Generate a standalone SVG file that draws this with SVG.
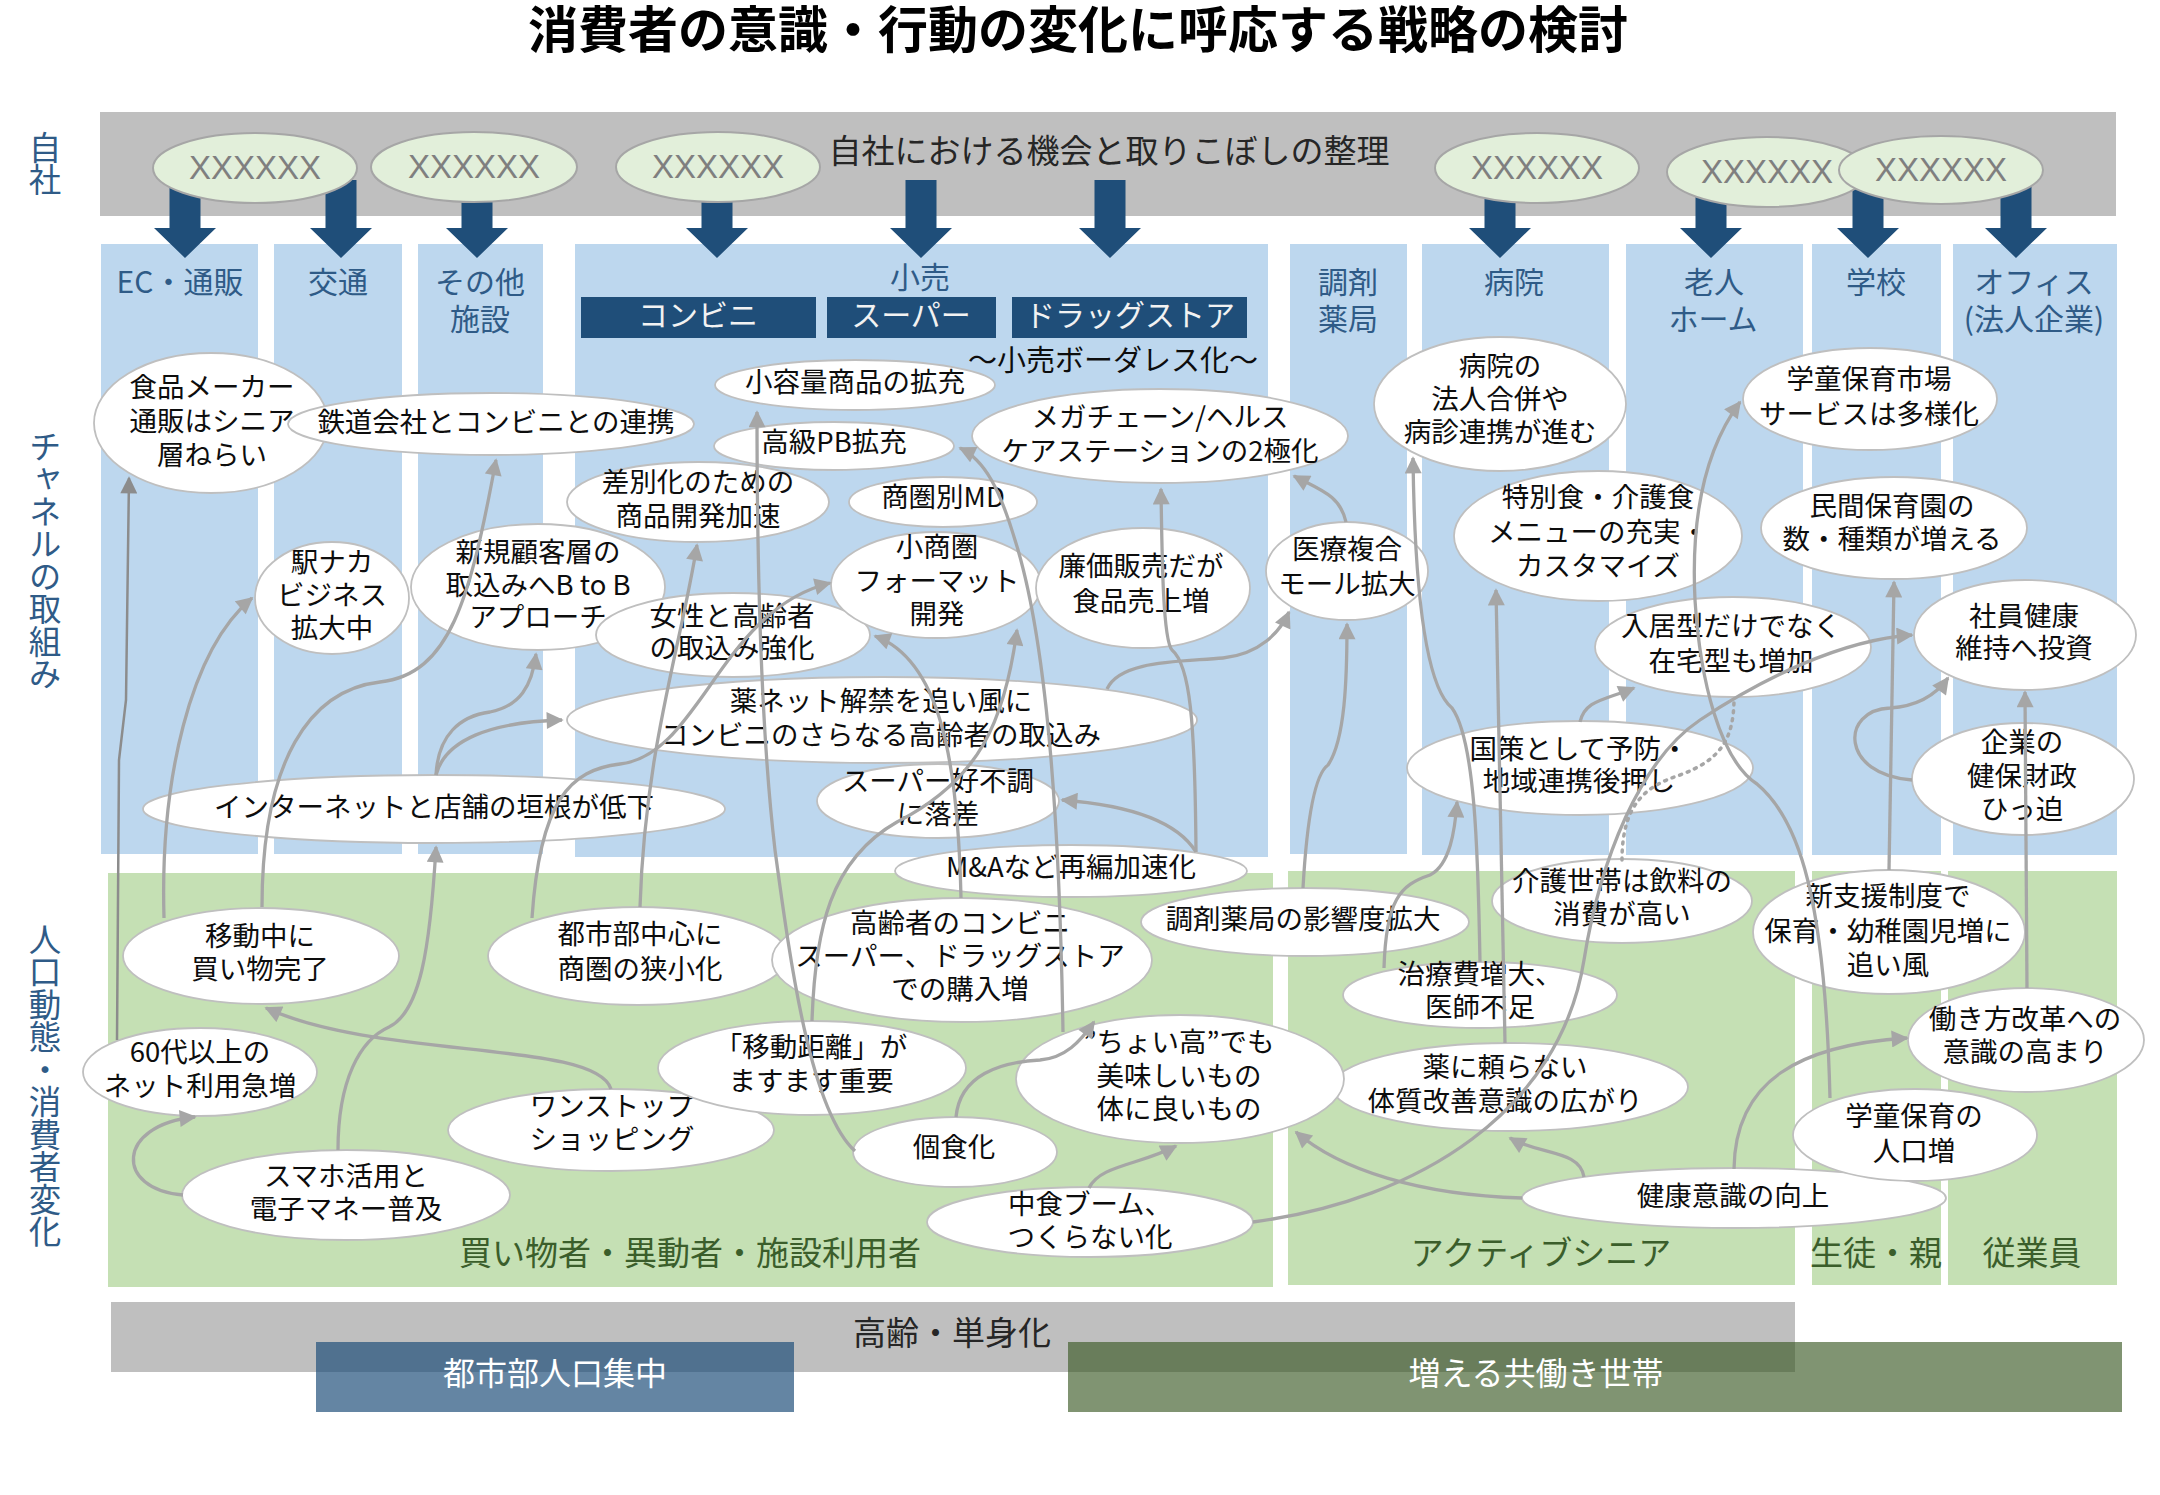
<svg xmlns="http://www.w3.org/2000/svg" width="2160" height="1495" viewBox="0 0 2160 1495">
<style>
text{font-family:'Noto Sans CJK JP','Noto Sans',sans-serif;transform:translateY(-3.5px)}
.title{font-size:50px;font-weight:bold;fill:#000;text-anchor:middle;dominant-baseline:central;transform:translateY(-5px)}
.side{font-size:32.5px;fill:#2f5b87;writing-mode:vertical-rl;transform:none}
.col{font-size:30px;fill:#2f5b87;text-anchor:middle;dominant-baseline:central}
.box{fill:#1f4e79}
.boxt{font-size:30px;fill:#f2f2f2;text-anchor:middle;dominant-baseline:central}
.blk{font-size:33px;fill:#262626;text-anchor:middle;dominant-baseline:central}
.grn{font-size:33px;fill:#3b5e2b;text-anchor:middle;dominant-baseline:central}
.wht{font-size:32px;fill:#fff;text-anchor:middle;dominant-baseline:central}
.xe ellipse{fill:#e2efda;stroke:#a6a6a6;stroke-width:2}
.xe text{font-family:'Liberation Sans',sans-serif;font-size:33px;fill:#7f7f7f;text-anchor:middle;dominant-baseline:central;transform:translateY(-1px)}
.n ellipse{fill:#fff;stroke:#bfbfbf;stroke-width:1.8}
.n text{font-size:27.5px;fill:#0d0d0d;text-anchor:middle;dominant-baseline:central}
.c path{fill:none;stroke:#a6a6a6;stroke-width:3.3;marker-end:url(#ah)}
.c path.dot{stroke-dasharray:2 6;stroke-linecap:round;marker-end:none;stroke-width:3.5}
.c path.dk{stroke:#8c8c8c;stroke-width:2.5;marker-end:url(#ah2)}
</style>
<defs>
<marker id="ah" viewBox="0 0 10 10" refX="9" refY="5" markerWidth="19" markerHeight="17" markerUnits="userSpaceOnUse" orient="auto"><path d="M0,0 L10,5 L0,10 z" fill="#a6a6a6"/></marker>
<marker id="ah2" viewBox="0 0 10 10" refX="9" refY="5" markerWidth="19" markerHeight="17" markerUnits="userSpaceOnUse" orient="auto"><path d="M0,0 L10,5 L0,10 z" fill="#8c8c8c"/></marker>
<path id="barrow" d="M-15.5,180 H15.5 V228 H31 L0,258 L-31,228 H-15.5 Z" fill="#1f4e79"/>
</defs>
<rect width="2160" height="1495" fill="#fff"/>
<text class="title" x="1078" y="31">消費者の意識・行動の変化に呼応する戦略の検討</text>

<g id="side-labels">
<text class="side" x="45" y="131">自社</text>
<text class="side" x="45" y="430">チャネルの取組み</text>
<text class="side" x="45" y="923">人口動態・消費者変化</text>
</g>

<g id="background">
<rect x="100" y="112" width="2016" height="104" fill="#bfbfbf"/>
<g fill="#bdd7ee">
<rect x="101" y="244" width="157" height="610"/>
<rect x="274" y="244" width="128" height="610"/>
<rect x="418" y="244" width="125" height="610"/>
<rect x="575" y="244" width="693" height="613"/>
<rect x="1290" y="244" width="117" height="610"/>
<rect x="1422" y="244" width="187" height="611"/>
<rect x="1626" y="244" width="177" height="611"/>
<rect x="1812" y="244" width="129" height="611"/>
<rect x="1953" y="244" width="164" height="611"/>
</g>
<g fill="#c5e0b4">
<rect x="108" y="873" width="1165" height="414"/>
<rect x="1288" y="871" width="507" height="414"/>
<rect x="1812" y="871" width="129" height="414"/>
<rect x="1948" y="871" width="169" height="414"/>
</g>
<rect x="111" y="1302" width="1684" height="70" fill="#bfbfbf"/>
<rect x="316" y="1342" width="478" height="70" fill="#1f4e79" fill-opacity="0.69"/>
<rect x="1068" y="1342" width="1054" height="70" fill="#385723" fill-opacity="0.64"/>
</g>

<g id="labels">
<text class="blk" x="1109" y="152">自社における機会と取りこぼしの整理</text>
<text class="col" x="180" y="283">EC・通販</text>
<text class="col" x="338" y="283">交通</text>
<text class="col" x="480" y="283">その他</text>
<text class="col" x="480" y="320">施設</text>
<text class="col" x="920" y="278">小売</text>
<text class="col" x="1348" y="283">調剤</text>
<text class="col" x="1348" y="320">薬局</text>
<text class="col" x="1514" y="283">病院</text>
<text class="col" x="1714" y="283">老人</text>
<text class="col" x="1713" y="320">ホーム</text>
<text class="col" x="1876" y="283">学校</text>
<text class="col" x="2034" y="283">オフィス</text>
<text class="col" x="2034" y="320">(法人企業)</text>
<rect class="box" x="581" y="297" width="235" height="41"/>
<rect class="box" x="827" y="297" width="169" height="41"/>
<rect class="box" x="1012" y="297" width="235" height="41"/>
<text class="boxt" x="698" y="316">コンビニ</text>
<text class="boxt" x="911" y="316">スーパー</text>
<text class="boxt" x="1130" y="316">ドラッグストア</text>
<text class="blk" x="1113" y="361" style="font-size:29px;fill:#0d0d0d">～小売ボーダレス化～</text>
<text class="grn" x="690" y="1254">買い物者・異動者・施設利用者</text>
<text class="grn" x="1541" y="1254">アクティブシニア</text>
<text class="grn" x="1876" y="1254">生徒・親</text>
<text class="grn" x="2032" y="1254">従業員</text>
<text class="blk" x="952" y="1334">高齢・単身化</text>
<text class="wht" x="555" y="1374">都市部人口集中</text>
<text class="wht" x="1536" y="1374">増える共働き世帯</text>
</g>

<g id="block-arrows">
<use href="#barrow" x="185"/><use href="#barrow" x="341"/><use href="#barrow" x="477"/>
<use href="#barrow" x="717"/><use href="#barrow" x="921"/><use href="#barrow" x="1110"/>
<use href="#barrow" x="1500"/><use href="#barrow" x="1711"/><use href="#barrow" x="1868"/>
<use href="#barrow" x="2016"/>
</g>

<g id="x1" class="xe"><ellipse cx="255" cy="168" rx="102" ry="35"/><text x="255" y="168">XXXXXX</text></g>
<g id="x2" class="xe"><ellipse cx="474" cy="167" rx="103" ry="35"/><text x="474" y="167">XXXXXX</text></g>
<g id="x3" class="xe"><ellipse cx="718" cy="167" rx="102" ry="35"/><text x="718" y="167">XXXXXX</text></g>
<g id="x4" class="xe"><ellipse cx="1537" cy="168" rx="102" ry="35"/><text x="1537" y="168">XXXXXX</text></g>
<g id="x5" class="xe"><ellipse cx="1767" cy="172" rx="100" ry="35"/><text x="1767" y="172">XXXXXX</text></g>
<g id="x6" class="xe"><ellipse cx="1941" cy="170" rx="102" ry="34"/><text x="1941" y="170">XXXXXX</text></g>

<g id="n1" class="n"><ellipse cx="211" cy="423" rx="117" ry="70"/><text><tspan x="212" y="388">食品メーカー</tspan><tspan x="212" y="422">通販はシニア</tspan><tspan x="212" y="456">層ねらい</tspan></text></g>
<g id="n2" class="n"><ellipse cx="491" cy="424" rx="203" ry="31"/><text x="496" y="423">鉄道会社とコンビニとの連携</text></g>
<g id="n3" class="n"><ellipse cx="332" cy="598" rx="77" ry="56"/><text><tspan x="332" y="563">駅ナカ</tspan><tspan x="332" y="596">ビジネス</tspan><tspan x="332" y="629">拡大中</tspan></text></g>
<g id="n4" class="n"><ellipse cx="538" cy="587" rx="127" ry="63"/><text><tspan x="538" y="553">新規顧客層の</tspan><tspan x="538" y="586">取込みへB to B</tspan><tspan x="538" y="618">アプローチ</tspan></text></g>
<g id="n5" class="n"><ellipse cx="434" cy="809" rx="291" ry="34"/><text x="434" y="808">インターネットと店舗の垣根が低下</text></g>
<g id="n6" class="n"><ellipse cx="855" cy="385" rx="140" ry="25"/><text x="855" y="383">小容量商品の拡充</text></g>
<g id="n7" class="n"><ellipse cx="834" cy="446" rx="120" ry="24"/><text x="834" y="443">高級PB拡充</text></g>
<g id="n8" class="n"><ellipse cx="1160" cy="436" rx="188" ry="47"/><text><tspan x="1160" y="418">メガチェーン/ヘルス</tspan><tspan x="1160" y="452">ケアステーションの2極化</tspan></text></g>
<g id="n9" class="n"><ellipse cx="698" cy="502" rx="131" ry="40"/><text><tspan x="698" y="483">差別化のための</tspan><tspan x="698" y="517">商品開発加速</tspan></text></g>
<g id="n10" class="n"><ellipse cx="943" cy="502" rx="94" ry="25"/><text x="943" y="498">商圏別MD</text></g>
<g id="n13" class="n"><ellipse cx="733" cy="635" rx="137" ry="42"/><text><tspan x="732" y="617">女性と高齢者</tspan><tspan x="732" y="649">の取込み強化</tspan></text></g>
<g id="n11" class="n"><ellipse cx="936" cy="585" rx="105" ry="53"/><text><tspan x="937" y="548">小商圏</tspan><tspan x="937" y="582">フォーマット</tspan><tspan x="937" y="615">開発</tspan></text></g>
<g id="n12" class="n"><ellipse cx="1143" cy="588" rx="107" ry="60"/><text><tspan x="1141" y="567">廉価販売だが</tspan><tspan x="1141" y="602">食品売上増</tspan></text></g>
<g id="n14" class="n"><ellipse cx="882" cy="720" rx="315" ry="43"/><text><tspan x="881" y="702">薬ネット解禁を追い風に</tspan><tspan x="881" y="736">コンビニのさらなる高齢者の取込み</tspan></text></g>
<g id="n15" class="n"><ellipse cx="938" cy="801" rx="121" ry="37"/><text><tspan x="938" y="782">スーパー好不調</tspan><tspan x="938" y="815">に落差</tspan></text></g>
<g id="n16" class="n"><ellipse cx="1071" cy="871" rx="176" ry="26"/><text x="1071" y="868">M&amp;Aなど再編加速化</text></g>
<g id="n17" class="n"><ellipse cx="1347" cy="571" rx="81" ry="49"/><text><tspan x="1347" y="550">医療複合</tspan><tspan x="1347" y="585">モール拡大</tspan></text></g>
<g id="n18" class="n"><ellipse cx="1500" cy="404" rx="126" ry="67"/><text><tspan x="1500" y="367">病院の</tspan><tspan x="1500" y="400">法人合併や</tspan><tspan x="1500" y="433">病診連携が進む</tspan></text></g>
<g id="n19" class="n"><ellipse cx="1598" cy="536" rx="144" ry="65"/><text><tspan x="1598" y="498">特別食・介護食</tspan><tspan x="1598" y="533">メニューの充実・</tspan><tspan x="1598" y="567">カスタマイズ</tspan></text></g>
<g id="n20" class="n"><ellipse cx="1733" cy="647" rx="138" ry="50"/><text><tspan x="1731" y="627">入居型だけでなく</tspan><tspan x="1731" y="662">在宅型も増加</tspan></text></g>
<g id="n21" class="n"><ellipse cx="1580" cy="768" rx="173" ry="47"/><text><tspan x="1579" y="750">国策として予防・</tspan><tspan x="1579" y="782">地域連携後押し</tspan></text></g>
<g id="n22" class="n"><ellipse cx="1870" cy="399" rx="127" ry="51"/><text><tspan x="1869" y="380">学童保育市場</tspan><tspan x="1869" y="415">サービスは多様化</tspan></text></g>
<g id="n23" class="n"><ellipse cx="1894" cy="528" rx="133" ry="51"/><text><tspan x="1892" y="507">民間保育園の</tspan><tspan x="1892" y="540">数・種類が増える</tspan></text></g>
<g id="n24" class="n"><ellipse cx="2025" cy="635" rx="111" ry="55"/><text><tspan x="2024" y="617">社員健康</tspan><tspan x="2024" y="649">維持へ投資</tspan></text></g>
<g id="n25" class="n"><ellipse cx="2023" cy="779" rx="111" ry="56"/><text><tspan x="2022" y="743">企業の</tspan><tspan x="2022" y="777">健保財政</tspan><tspan x="2022" y="810">ひっ迫</tspan></text></g>

<g id="p1" class="n"><ellipse cx="261" cy="956" rx="138" ry="48"/><text><tspan x="260" y="937">移動中に</tspan><tspan x="260" y="970">買い物完了</tspan></text></g>
<g id="p2" class="n"><ellipse cx="638" cy="956" rx="150" ry="49"/><text><tspan x="640" y="935">都市部中心に</tspan><tspan x="640" y="970">商圏の狭小化</tspan></text></g>
<g id="p3" class="n"><ellipse cx="962" cy="960" rx="190" ry="62"/><text><tspan x="960" y="924">高齢者のコンビニ</tspan><tspan x="960" y="957">スーパー、ドラッグストア</tspan><tspan x="960" y="990">での購入増</tspan></text></g>
<g id="p4" class="n"><ellipse cx="200" cy="1072" rx="117" ry="44"/><text><tspan x="200" y="1053">60代以上の</tspan><tspan x="200" y="1087">ネット利用急増</tspan></text></g>
<g id="p5" class="n"><ellipse cx="346" cy="1195" rx="164" ry="45"/><text><tspan x="346" y="1177">スマホ活用と</tspan><tspan x="346" y="1210">電子マネー普及</tspan></text></g>
<g id="p6" class="n"><ellipse cx="611" cy="1130" rx="163" ry="41"/><text><tspan x="612" y="1107">ワンストップ</tspan><tspan x="612" y="1140">ショッピング</tspan></text></g>
<g id="p7" class="n"><ellipse cx="812" cy="1068" rx="154" ry="47"/><text><tspan x="811" y="1048">「移動距離」が</tspan><tspan x="811" y="1082">ますます重要</tspan></text></g>
<g id="p8" class="n"><ellipse cx="955" cy="1152" rx="102" ry="35"/><text x="954" y="1148">個食化</text></g>
<g id="p9" class="n"><ellipse cx="1090" cy="1222" rx="163" ry="35"/><text><tspan x="1090" y="1205">中食ブーム、</tspan><tspan x="1090" y="1238">つくらない化</tspan></text></g>
<g id="p14" class="n"><ellipse cx="1510" cy="1087" rx="178" ry="44"/><text><tspan x="1505" y="1068">薬に頼らない</tspan><tspan x="1505" y="1102">体質改善意識の広がり</tspan></text></g>
<g id="p10" class="n"><ellipse cx="1180" cy="1079" rx="164" ry="64"/><text><tspan x="1179" y="1043">”ちょい高”でも</tspan><tspan x="1179" y="1077">美味しいもの</tspan><tspan x="1179" y="1110">体に良いもの</tspan></text></g>
<g id="p11" class="n"><ellipse cx="1305" cy="922" rx="164" ry="34"/><text x="1303" y="920">調剤薬局の影響度拡大</text></g>
<g id="p12" class="n"><ellipse cx="1622" cy="901" rx="130" ry="42"/><text><tspan x="1622" y="882">介護世帯は飲料の</tspan><tspan x="1622" y="915">消費が高い</tspan></text></g>
<g id="p13" class="n"><ellipse cx="1480" cy="995" rx="137" ry="33"/><text><tspan x="1480" y="975">治療費増大、</tspan><tspan x="1480" y="1008">医師不足</tspan></text></g>
<g id="p15" class="n"><ellipse cx="1889" cy="932" rx="136" ry="62"/><text><tspan x="1888" y="897">新支援制度で</tspan><tspan x="1888" y="932">保育・幼稚園児増に</tspan><tspan x="1888" y="966">追い風</tspan></text></g>
<g id="p16" class="n"><ellipse cx="2026" cy="1040" rx="118" ry="52"/><text><tspan x="2025" y="1020">働き方改革への</tspan><tspan x="2025" y="1053">意識の高まり</tspan></text></g>
<g id="p18" class="n"><ellipse cx="1734" cy="1198" rx="212" ry="30"/><text x="1733" y="1197">健康意識の向上</text></g>
<g id="p17" class="n"><ellipse cx="1915" cy="1135" rx="122" ry="46"/><text><tspan x="1914" y="1117">学童保育の</tspan><tspan x="1914" y="1152">人口増</tspan></text></g>

<g id="connectors" class="c">
<path class="dk" d="M117,1040 L119,760 L126,700 L129,478"/>
<path d="M164,918 C160,780 190,650 252,598"/>
<path d="M262,907 C262,760 310,690 380,682 C450,674 470,600 496,460"/>
<path d="M338,1150 C338,1080 360,1040 389,1027 C420,1012 430,950 436,847"/>
<path d="M183,1195 C115,1190 115,1125 195,1117"/>
<path d="M611,1089 C595,1040 380,1060 266,1008"/>
<path d="M436,775 C438,735 460,716 490,712 C520,706 532,686 536,654"/>
<path d="M436,775 C445,740 490,722 562,720"/>
<path d="M532,918 C540,800 570,770 620,764 C700,755 720,610 830,583"/>
<path d="M640,907 C645,750 680,650 697,545"/>
<path d="M855,1151 C810,1110 790,960 775,850 C762,740 757,600 757,412"/>
<path d="M961,898 C958,760 940,660 875,636"/>
<path d="M812,1021 C815,930 830,860 897,822 C980,780 1005,720 1017,630"/>
<path d="M1063,1032 C1060,850 1050,650 1015,540 C1000,490 985,460 960,448"/>
<path d="M956,1117 C960,1075 1000,1062 1040,1060 C1065,1058 1080,1042 1094,1022"/>
<path d="M1107,689 C1120,660 1180,662 1223,658 C1260,654 1280,632 1289,612"/>
<path d="M1196,852 C1195,720 1190,665 1172,650 C1163,640 1162,560 1161,489"/>
<path d="M1196,852 C1180,826 1140,806 1062,800"/>
<path d="M1303,888 C1308,800 1318,772 1328,765 C1345,740 1347,680 1347,624"/>
<path d="M1384,968 C1386,900 1400,885 1430,875 C1450,865 1455,830 1457,802"/>
<path d="M1480,962 C1478,850 1475,740 1452,708 C1430,690 1415,620 1413,458"/>
<path d="M1505,1043 L1496,590"/>
<path d="M1253,1222 C1420,1200 1560,1110 1584,960 C1600,860 1640,760 1700,720 C1760,680 1840,640 1912,635"/>
<path d="M1830,1098 C1825,900 1800,820 1757,784 C1720,760 1700,680 1695,600 C1690,500 1712,440 1740,402"/>
<path d="M1889,870 L1894,582"/>
<path d="M2027,988 L2025,692"/>
<path d="M1912,780 C1840,775 1840,710 1890,708 C1920,706 1938,692 1948,678"/>
<path d="M1580,722 C1585,700 1605,700 1634,688"/>
<path class="dot" d="M1622,860 C1622,800 1650,785 1680,775 C1720,760 1734,740 1734,698"/>
<path d="M1734,1169 C1735,1080 1800,1045 1907,1038"/>
<path d="M1522,1198 C1420,1195 1340,1170 1296,1132"/>
<path d="M1584,1177 C1580,1150 1540,1155 1510,1138"/>
<path d="M1089,1188 C1100,1165 1140,1165 1176,1146"/>
<path d="M1346,522 C1340,495 1320,490 1294,476"/>
</g>
</svg>
